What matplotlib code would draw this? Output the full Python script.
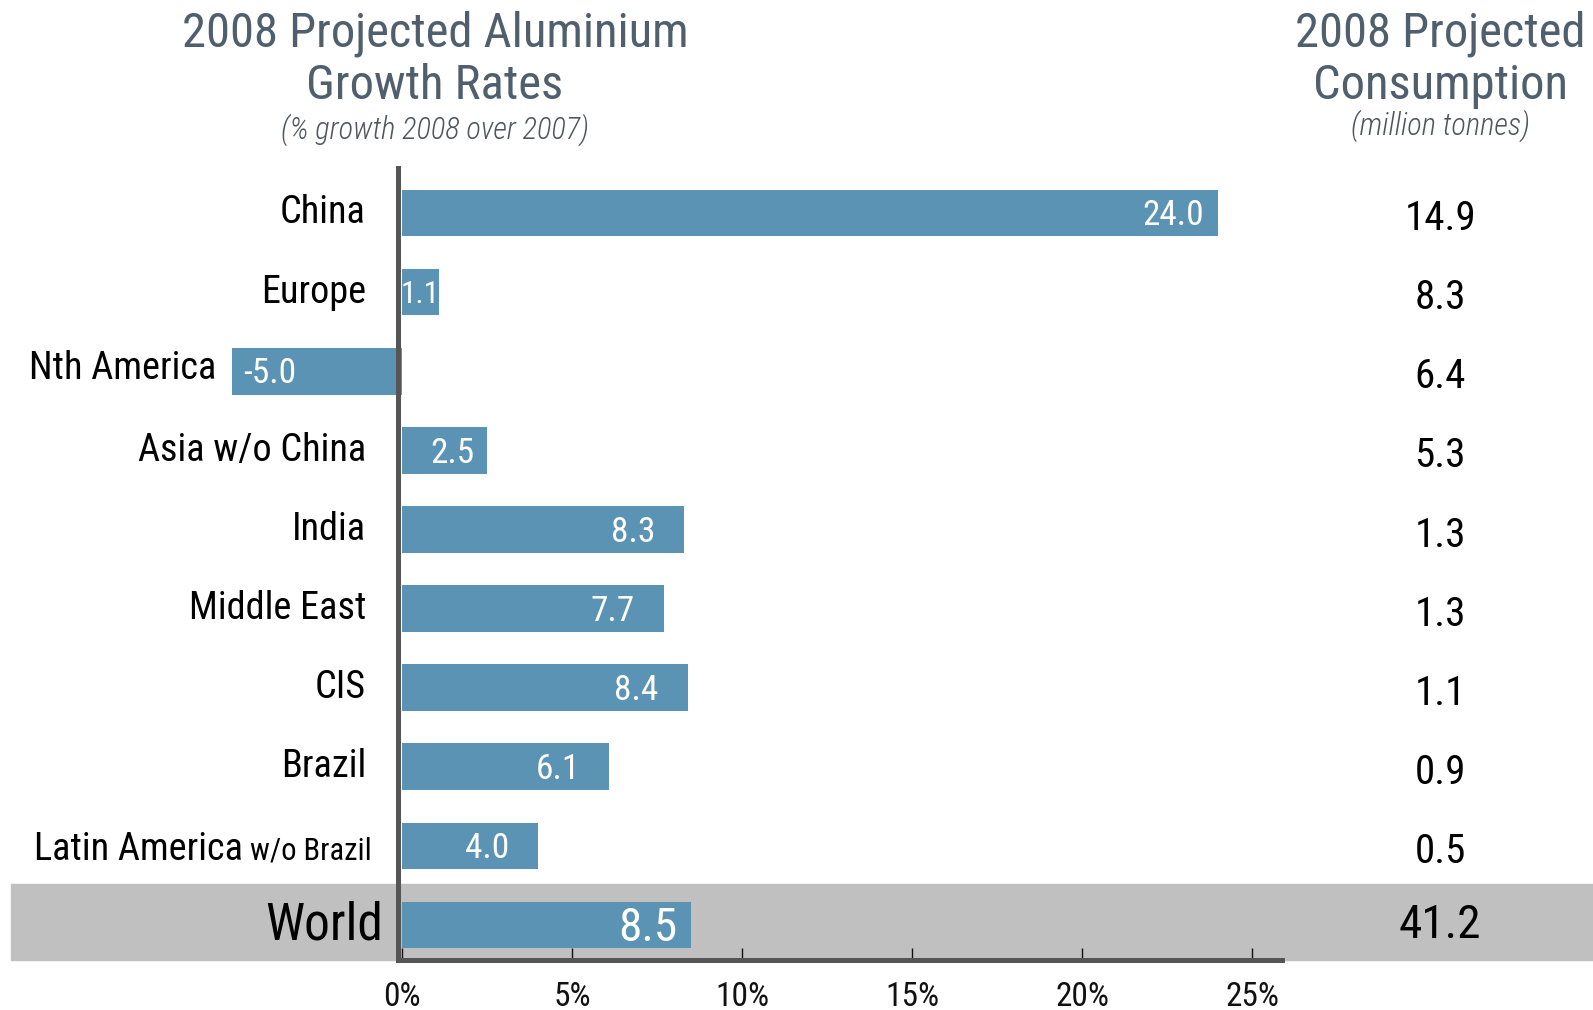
import matplotlib
matplotlib.use("Agg")
import matplotlib.pyplot as plt
import matplotlib.transforms as mtransforms
from matplotlib.patches import Rectangle

# narrow face for everything, DejaVu only as a last resort
plt.rcParams['font.family'] = ['Liberation Sans Narrow', 'Roboto Condensed', 'DejaVu Sans']

# =========================
# Data
# =========================
regions = ["China", "Europe", "Nth America", "Asia w/o China", "India",
           "Middle East", "CIS", "Brazil", "Latin America w/o Brazil", "World"]
growth = [24.0, 1.1, -5.0, 2.5, 8.3, 7.7, 8.4, 6.1, 4.0, 8.5]
consumption = [14.9, 8.3, 6.4, 5.3, 1.3, 1.3, 1.1, 0.9, 0.5, 41.2]
xticks = [0, 5, 10, 15, 20, 25]
xtick_labels = ["0%", "5%", "10%", "15%", "20%", "25%"]

bar_color = "#5a93b4"
band_color = "#c0c0c0"
title_color = "#4f5f6e"
spine_color = "#555555"

fig = plt.figure(figsize=(15.93, 10.10), dpi=100)
ax = fig.add_axes([0.2524, 0.0495, 0.5524, 0.7842])
ax.set_zorder(2)

n = len(regions)
ypos = list(range(n))
world = n - 1

# grey band behind the World row
band_tr = mtransforms.blended_transform_factory(fig.transFigure, ax.transData)
fig.patches.append(Rectangle((0.007, world - 0.517), 0.993, 0.96,
                             transform=band_tr, color=band_color, zorder=0))

ax.barh(ypos, growth, height=0.59, color=bar_color, clip_on=False, zorder=2)

ax.set_xlim(0, 25.88)
ax.set_ylim(9.442, -0.569)
ax.patch.set_alpha(0)

for s in ["top", "right"]:
    ax.spines[s].set_visible(False)
ax.spines["left"].set_position(("outward", 3))
for s in ["left", "bottom"]:
    ax.spines[s].set_color(spine_color)
    ax.spines[s].set_linewidth(3.6)
    ax.spines[s].set_zorder(4)

ax.set_yticks([])
ax.set_xticks(xticks)
ax.set_xticklabels(xtick_labels, fontsize=24, color="#111111")
ax.tick_params(axis="x", direction="in", length=9, width=1, color="#111111", pad=15)

# value labels inside the bars
for i, v in enumerate(growth):
    big = i == world
    fs = 34 if big else 25.5
    if v < 0:
        ax.annotate(f"{v:.1f}", xy=(v, i), xytext=(8, -2), textcoords="offset points",
                    ha="left", va="center", color="white", fontsize=fs, zorder=5,
                    annotation_clip=False)
    elif v < 2:
        # too short for the label, squeeze it in from the bar start
        ax.annotate(f"{v:.1f}", xy=(0, i), xytext=(-1, -2), textcoords="offset points",
                    ha="left", va="center", color="white", fontsize=fs - 3, zorder=5,
                    annotation_clip=False)
    else:
        pad = 9 if v < 3 else (10 if v > 20 or big else 21)
        ax.annotate(f"{v:.1f}", xy=(v, i), xytext=(-pad, -2), textcoords="offset points",
                    ha="right", va="center", color="white", fontsize=fs, zorder=5,
                    annotation_clip=False)

# region names on the left
for i, name in enumerate(regions):
    x0 = min(growth[i], 0)
    if i == world:
        ax.annotate(name, xy=(0, i), xytext=(-14, 0), textcoords="offset points",
                    ha="right", va="center", fontsize=37, annotation_clip=False)
    elif name.endswith("w/o Brazil"):
        head, tail = name.split(" w/o ")
        t2 = ax.annotate("w/o " + tail, xy=(0, i), xytext=(-22, -10), textcoords="offset points",
                         ha="right", va="baseline", fontsize=22, annotation_clip=False)
        ax.annotate(head, xy=(0, i), xycoords=(t2, "data"), xytext=(-5, -10),
                    textcoords="offset points", ha="right", va="baseline", fontsize=27.5,
                    annotation_clip=False)
    elif x0 < 0:
        ax.annotate(name, xy=(x0, i), xytext=(-11, 2), textcoords="offset points",
                    ha="right", va="center", fontsize=27.5, annotation_clip=False)
    else:
        ax.annotate(name, xy=(0, i), xytext=(-26, 0), textcoords="offset points",
                    ha="right", va="center", fontsize=27.5, annotation_clip=False)

# consumption column on the right
col_tr = mtransforms.blended_transform_factory(fig.transFigure, ax.transData)
for i, c in enumerate(consumption):
    ax.annotate(f"{c:.1f}", xy=(0.904, i), xycoords=col_tr,
                xytext=(0, 0 if i == world else -4),
                textcoords="offset points", ha="center", va="center",
                fontsize=34 if i == world else 29.5, color="black", annotation_clip=False)

# headings
fig.text(0.273, 0.967, "2008 Projected Aluminium", ha="center", va="center",
         fontsize=35, color=title_color)
fig.text(0.273, 0.915, "Growth Rates", ha="center", va="center",
         fontsize=35, color=title_color)
fig.text(0.273, 0.871, "(% growth 2008 over 2007)", ha="center", va="center",
         fontsize=22, style="italic", fontweight="light", color="#50565c")

fig.text(0.904, 0.967, "2008 Projected", ha="center", va="center",
         fontsize=35, color=title_color)
fig.text(0.904, 0.915, "Consumption", ha="center", va="center",
         fontsize=35, color=title_color)
fig.text(0.904, 0.875, "(million tonnes)", ha="center", va="center",
         fontsize=22, style="italic", fontweight="light", color="#50565c")

fig.savefig("out.png", dpi=100)
